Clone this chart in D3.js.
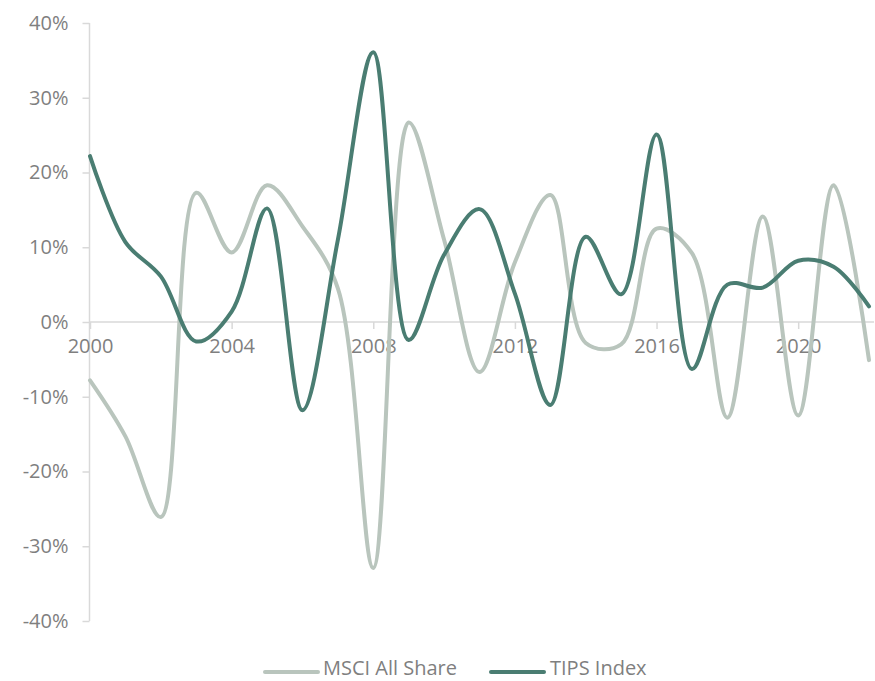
<!DOCTYPE html>
<html>
<head>
<meta charset="utf-8">
<script src="https://cdn.jsdelivr.net/npm/d3@7/dist/d3.min.js"></script>
<style>
  html, body { margin: 0; padding: 0; background: #fff; }
  svg { display: block; }
  text { font-family: "Open Sans", "Noto Sans", sans-serif; }
</style>
</head>
<body>
<svg id="chart" width="875" height="681"></svg>
<script>
const years = d3.range(2000, 2023);
const msciAllShare = [-7.8, -15.3, -26.1, 17.3, 9.3, 18.3, 12.8, 4.5, -32.9, 26.7, 11.0, -6.7, 8.0, 17.0, -2.8, -3.0, 12.5, 9.2, -12.8, 14.1, -12.5, 18.3, -5.1];
const tipsIndex = [22.2, 10.7, 6.1, -2.6, 1.4, 15.2, -11.8, 11.0, 36.1, -2.4, 9.0, 15.1, 3.8, -11.1, 11.4, 3.7, 25.1, -6.3, 5.0, 4.6, 8.2, 7.4, 2.1];
const yTicks = [-40, -30, -20, -10, 0, 10, 20, 30, 40];
const xTicks = [2000, 2004, 2008, 2012, 2016, 2020];
const seriesNames = ["MSCI All Share", "TIPS Index"];
const seriesColors = ["#b9c5bd", "#4a7d72"];

const svg = d3.select("#chart");
const x = d3.scaleLinear().domain([2000, 2022]).range([90, 869]);
const y = d3.scaleLinear().domain([-40, 40]).range([621, 23]);
const axisColor = "#d9d9d9";
const labelColor = "#7f7f7f";
const fs = "20px";

// Y axis
const yAxis = svg.append("g").attr("transform", "translate(89.5,0)")
  .call(d3.axisLeft(y).tickValues(yTicks).tickSize(7).tickPadding(14).tickFormat(d => d + "%"));
yAxis.select(".domain").attr("stroke", axisColor).attr("stroke-width", 1.5).attr("d", `M0,${y(-40)}V${y(40)}`);
yAxis.selectAll(".tick line").attr("stroke", axisColor).attr("stroke-width", 1.5);
yAxis.selectAll(".tick text").attr("fill", labelColor).style("font-size", fs);

// X axis at zero
const xAxis = svg.append("g").attr("transform", `translate(0,${y(0)})`)
  .call(d3.axisBottom(x).tickValues(xTicks).tickSize(7).tickPadding(10).tickFormat(d3.format("d")));
xAxis.select(".domain").attr("stroke", axisColor).attr("stroke-width", 1.5).attr("d", `M89,0H874`);
xAxis.selectAll(".tick line").attr("stroke", axisColor).attr("stroke-width", 1.5);
xAxis.selectAll(".tick text").attr("fill", labelColor).style("font-size", fs);

const line = d3.line().x((d, i) => x(years[i])).y(d => y(d)).curve(d3.curveCatmullRom.alpha(0.5));

[msciAllShare, tipsIndex].forEach((data, k) => {
  svg.append("path").datum(data)
    .attr("fill", "none")
    .attr("stroke", seriesColors[k])
    .attr("stroke-width", 4)
    .attr("stroke-linejoin", "round")
    .attr("stroke-linecap", "round")
    .attr("d", line);
});

// Legend
const legendItems = [{x0: 265, tx: 323}, {x0: 491, tx: 550}];
legendItems.forEach((it, k) => {
  svg.append("line").attr("x1", it.x0).attr("x2", it.x0 + 53).attr("y1", 672).attr("y2", 672)
    .attr("stroke", seriesColors[k]).attr("stroke-width", 4).attr("stroke-linecap", "round");
  svg.append("text").attr("x", it.tx).attr("y", 675).attr("fill", labelColor)
    .style("font-size", fs).text(seriesNames[k]);
});
</script>
</body>
</html>
